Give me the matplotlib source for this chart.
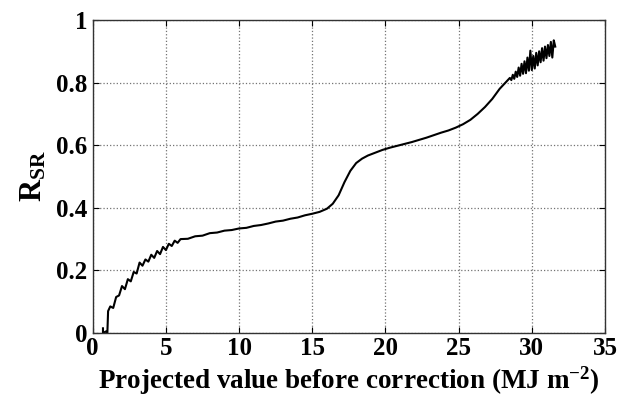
import numpy as np
import matplotlib
matplotlib.use('Agg')
import matplotlib.pyplot as plt

plt.rcParams['font.family'] = 'Liberation Serif'
plt.rcParams['font.weight'] = 'bold'
plt.rcParams['axes.labelweight'] = 'bold'
plt.rcParams['mathtext.fontset'] = 'custom'
plt.rcParams['mathtext.rm'] = 'Liberation Serif:bold'
plt.rcParams['mathtext.bf'] = 'Liberation Serif:bold'
plt.rcParams['mathtext.default'] = 'bf'

# projected value before correction (MJ m-2) and the ratio R_SR
proj_low = [0.7, 0.7, 0.9, 1.0, 1.05, 1.2, 1.4, 1.6, 1.8, 2.0, 2.2, 2.4, 2.6, 2.8, 3.0,
            3.2, 3.4, 3.6, 3.8, 4.0, 4.2, 4.4, 4.6, 4.8, 5.0, 5.2, 5.4, 5.6, 5.8, 6.0]
rsr_low = [0.015, 0.000, 0.005, 0.000, 0.070, 0.085, 0.080, 0.115, 0.120, 0.150, 0.140,
           0.172, 0.165, 0.195, 0.190, 0.225, 0.215, 0.235, 0.228, 0.250, 0.240,
           0.262, 0.252, 0.275, 0.265, 0.285, 0.278, 0.295, 0.288, 0.300]

proj_mid = [6.5, 7.0, 7.5, 8.0, 8.5, 9.0, 9.5, 10.0, 10.5, 11.0, 11.5, 12.0, 12.5,
            13.0, 13.5, 14.0, 14.5, 15.0, 15.5, 16.0, 16.4, 16.8, 17.2, 17.6, 18.0,
            18.4, 18.8]
rsr_mid = [0.301, 0.309, 0.311, 0.319, 0.321, 0.327, 0.329, 0.334, 0.336, 0.342,
           0.345, 0.350, 0.356, 0.359, 0.365, 0.369, 0.376, 0.381, 0.387, 0.397,
           0.413, 0.440, 0.482, 0.518, 0.543, 0.557, 0.567]

proj_upper = [19.3, 19.8, 20.3, 20.8, 21.3, 21.8, 22.3, 22.8, 23.3, 23.8, 24.3,
              24.8, 25.3, 25.8, 26.3, 26.8, 27.3, 27.8, 28.3]
rsr_upper = [0.576, 0.585, 0.592, 0.598, 0.604, 0.610, 0.617, 0.624, 0.632, 0.640,
             0.647, 0.656, 0.667, 0.681, 0.700, 0.722, 0.748, 0.780, 0.805]

proj_high = [28.5, 28.6, 28.7, 28.8, 28.9, 29.0, 29.1, 29.2, 29.3, 29.4, 29.5,
             29.6, 29.7, 29.8, 29.9, 30.0, 30.1, 30.2, 30.3, 30.4, 30.5, 30.6,
             30.7, 30.8, 30.9, 31.0, 31.1, 31.2, 31.3, 31.4, 31.5, 31.6]
rsr_high = [0.815, 0.808, 0.825, 0.812, 0.835, 0.818, 0.848, 0.822, 0.860, 0.828,
            0.868, 0.830, 0.880, 0.838, 0.902, 0.840, 0.885, 0.845, 0.895, 0.855,
            0.900, 0.865, 0.910, 0.870, 0.915, 0.878, 0.920, 0.885, 0.930, 0.880,
            0.935, 0.915]

x = np.array(proj_low + proj_mid + proj_upper + proj_high)
y = np.array(rsr_low + rsr_mid + rsr_upper + rsr_high)

fig = plt.figure(figsize=(6.19, 3.99), dpi=100)
ax = fig.add_axes([0.1498, 0.1654, 0.8276, 0.7845])

ax.plot(x, y, '-', lw=1.5, color='k')

ax.set_xlim(0, 35)
ax.set_ylim(0, 1)
ax.set_xticks(range(0, 36, 5))
ax.set_yticks([0, 0.2, 0.4, 0.6, 0.8, 1])
ax.set_yticklabels(['0', '0.2', '0.4', '0.6', '0.8', '1'])

ax.grid(True, linestyle=':', color='0.45', lw=0.9)
ax.tick_params(direction='in', top=True, right=True, length=4, labelsize=18)
ax.tick_params(axis='x', pad=3)
ax.tick_params(axis='y', pad=4)
for s in ax.spines.values():
    s.set_linewidth(1.0)
    s.set_color('0.2')

ax.set_xlabel('Projected value before correction (MJ m$^{-2}$)', fontsize=19.5, labelpad=3)
ax.set_ylabel('R$_{SR}$', fontsize=22, labelpad=5)

fig.savefig('out.png', dpi=100)
